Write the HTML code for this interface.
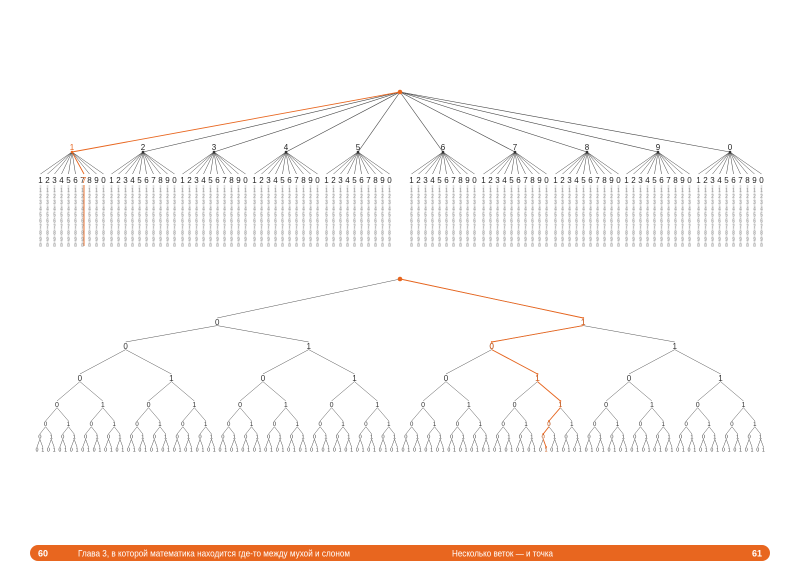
<!DOCTYPE html>
<html><head><meta charset="utf-8"><style>
html,body{margin:0;padding:0;background:#fff;width:800px;height:579px;overflow:hidden}
svg{display:block}
text{font-family:"Liberation Sans",sans-serif}
.dr{font-size:8px;fill:#222}
.gr{font-size:5px;fill:#999}
.b{fill:#333}
.ft{font-family:"Liberation Sans Narrow","Liberation Sans",sans-serif;font-size:9px;fill:#fff}
</style></head><body>
<svg id="s" width="800" height="579" xmlns="http://www.w3.org/2000/svg">
<g id="lines"></g>
<text class="dr" text-anchor="middle" x="72" y="150" style="font-size:8px;fill:#e8661f">1</text>
<text class="dr" text-anchor="middle" x="143" y="150">2</text>
<text class="dr" text-anchor="middle" x="214" y="150">3</text>
<text class="dr" text-anchor="middle" x="286" y="150">4</text>
<text class="dr" text-anchor="middle" x="358" y="150">5</text>
<text class="dr" text-anchor="middle" x="443" y="150">6</text>
<text class="dr" text-anchor="middle" x="515" y="150">7</text>
<text class="dr" text-anchor="middle" x="587" y="150">8</text>
<text class="dr" text-anchor="middle" x="658" y="150">9</text>
<text class="dr" text-anchor="middle" x="730" y="150">0</text>
<g id="drows">
<text class="dr dg">1234567890</text><text class="dr dg">1234567890</text><text class="dr dg">1234567890</text><text class="dr dg">1234567890</text><text class="dr dg">1234567890</text><text class="dr dg">1234567890</text><text class="dr dg">1234567890</text><text class="dr dg">1234567890</text><text class="dr dg">1234567890</text><text class="dr dg">1234567890</text>
</g>
<text class="dr" text-anchor="middle" x="84" y="183" style="fill:#e8661f">7</text>
<g id="grid">
<text class="gr">1111111111111111111111111111111111111111111111111111111111111111111111111111111111111111111111111111</text>
<text class="gr">2222222222222222222222222222222222222222222222222222222222222222222222222222222222222222222222222222</text>
<text class="gr">3333333333333333333333333333333333333333333333333333333333333333333333333333333333333333333333333333</text>
<text class="gr">4444444444444444444444444444444444444444444444444444444444444444444444444444444444444444444444444444</text>
<text class="gr">5555555555555555555555555555555555555555555555555555555555555555555555555555555555555555555555555555</text>
<text class="gr">6666666666666666666666666666666666666666666666666666666666666666666666666666666666666666666666666666</text>
<text class="gr">7777777777777777777777777777777777777777777777777777777777777777777777777777777777777777777777777777</text>
<text class="gr">8888888888888888888888888888888888888888888888888888888888888888888888888888888888888888888888888888</text>
<text class="gr">9999999999999999999999999999999999999999999999999999999999999999999999999999999999999999999999999999</text>
<text class="gr">0000000000000000000000000000000000000000000000000000000000000000000000000000000000000000000000000000</text>
</g>
<g id="blab">
<text class="b bl" data-k="1">01</text>
<text class="b bl" data-k="2">0101</text>
<text class="b bl" data-k="3">01010101</text>
<text class="b bl" data-k="4">0101010101010101</text>
<text class="b bl" data-k="5">01010101010101010101010101010101</text>
<text class="b bl" data-k="6">0101010101010101010101010101010101010101010101010101010101010101</text>
<text class="b bl" data-k="7">01010101010101010101010101010101010101010101010101010101010101010101010101010101010101010101010101010101010101010101010101010101</text>
</g>
<g id="olab">
<text class="ol">1</text><text class="ol">0</text><text class="ol">1</text><text class="ol">1</text><text class="ol">0</text><text class="ol">0</text><text class="ol">1</text>
</g>
<rect x="30" y="545" width="740" height="16" rx="8" fill="#e8661f"/>
<text class="ft" x="38" y="556.5" font-weight="bold">60</text>
<text class="ft" x="78" y="556.5" textLength="272" lengthAdjust="spacingAndGlyphs">Глава 3, в которой математика находится где-то между мухой и слоном</text>
<text class="ft" x="452" y="556.5" textLength="101" lengthAdjust="spacingAndGlyphs">Несколько веток — и точка</text>
<text class="ft" x="752" y="556.5" font-weight="bold">61</text>
</svg>
<script>
var NS='http://www.w3.org/2000/svg',G=document.getElementById('lines'),O='#e8661f';
function L(a,b,c,d,col,w){var l=document.createElementNS(NS,'line');l.setAttribute('x1',a);l.setAttribute('y1',b);l.setAttribute('x2',c);l.setAttribute('y2',d);l.setAttribute('stroke',col||'#444');l.setAttribute('stroke-width',w||0.5);G.appendChild(l);}
function D(x,y,r,c){var e=document.createElementNS(NS,'circle');e.setAttribute('cx',x);e.setAttribute('cy',y);e.setAttribute('r',r);e.setAttribute('fill',c);G.appendChild(e);}
var cx=[72,143,214,286,358,443,515,587,658,730],all=[];
var dg=document.querySelectorAll('.dg');
cx.forEach(function(c,g){var xs=[];for(var i=0;i<10;i++){var dx=c+(i-4.5)*7;xs.push(dx-2.2);all.push(dx-1.4);
 if(!(g==0&&i==6))L(c,152,dx,174,'#444',0.5);
 L(dx,185,dx,246,'#ddd',1.6);}
 dg[g].setAttribute('x',xs.join(' '));dg[g].setAttribute('y',183);
 if(g)L(400,92,c,152,'#444',0.6);D(c,152,1.3,g?'#333':O);});
var gr=document.querySelectorAll('.gr');
gr.forEach(function(t,r){t.setAttribute('x',all.join(' '));t.setAttribute('y',192+r*6.1);});
L(400,92,72,152,O,0.9);L(72,152,84,174,O,0.9);L(84,185,84,246,O,0.9);
D(400,92,2.3,O);
// binary
var ys=[279,318,342,374,401,421,434,447],fs=[8,8,8,8,7,6,5.5,5];
function nx(k,j){var sp=Math.pow(2,7-k);return 37+(j*sp+(sp-1)/2)*5.72;}
for(var k=1;k<=7;k++){for(var j=0;j<Math.pow(2,k);j++){var px=nx(k-1,j>>1),py=ys[k-1]+(k>1?fs[k-1]*0.95:0);L(px,py,nx(k,j),ys[k],'#555',0.5);}}
document.querySelectorAll('.bl').forEach(function(t){var k=+t.getAttribute('data-k'),xs=[];for(var j=0;j<Math.pow(2,k);j++)xs.push((nx(k,j)-fs[k]*0.28).toFixed(2));t.setAttribute('x',xs.join(' '));t.setAttribute('y',ys[k]+fs[k]*0.85);t.style.fontSize=fs[k]+'px';});
var bits=[1,0,1,1,0,0,1],j=0,ol=document.querySelectorAll('.ol'),pj=0;
for(var k=1;k<=7;k++){pj=j;j=j*2+bits[k-1];var px=nx(k-1,pj),py=ys[k-1]+(k>1?fs[k-1]*0.95:0);L(px,py,nx(k,j),ys[k],O,0.9);D(nx(k,j),ys[k],0.9,O);
 var t=ol[k-1];t.setAttribute('x',(nx(k,j)-fs[k]*0.28).toFixed(2));t.setAttribute('y',ys[k]+fs[k]*0.85);t.style.fontSize=fs[k]+'px';t.style.fill=O;}
D(400,279,2.3,O);
</script>
</body></html>
